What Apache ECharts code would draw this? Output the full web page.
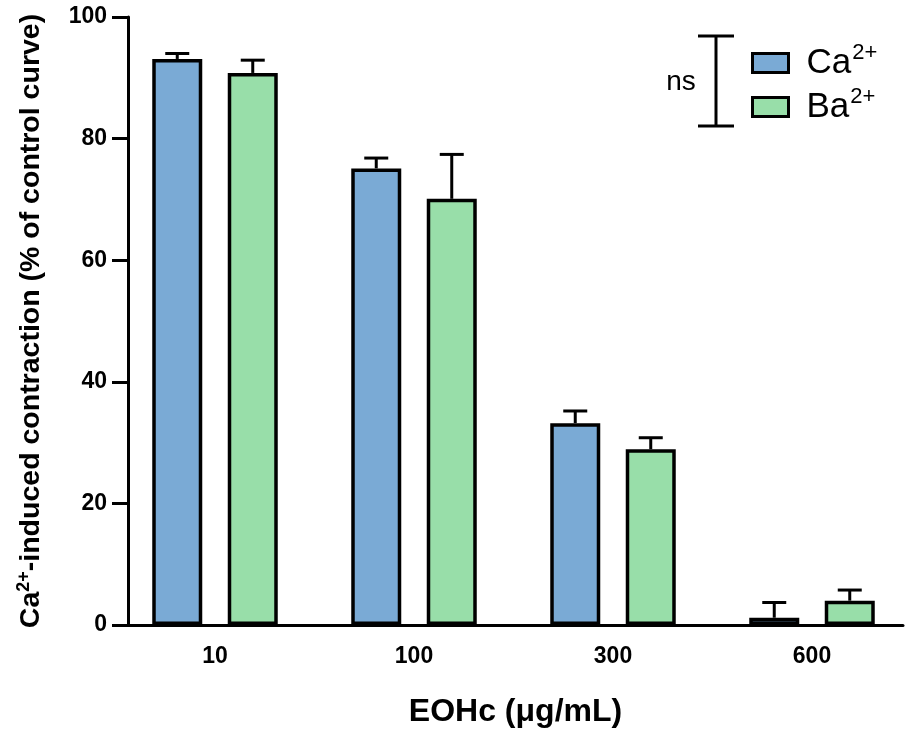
<!DOCTYPE html>
<html>
<head>
<meta charset="utf-8">
<script src="https://cdn.jsdelivr.net/npm/echarts@6/dist/echarts.min.js"></script>
<style>
  html, body { margin: 0; padding: 0; background: #fff; }
  #chart { width: 912px; height: 735px; }
</style>
</head>
<body>
<div id="chart"></div>
<script>
// data
const categories = ["10", "100", "300", "600"];
const caMean = [93.1, 75.1, 33.2, 1.2];
const caSem = [0.9, 1.7, 2.0, 2.5];
const baMean = [90.8, 70.1, 28.9, 4.0];
const baSem = [2.1, 7.3, 1.9, 1.75];
const yTicks = [0, 20, 40, 60, 80, 100];

const FONT = "'Liberation Sans', Arial, sans-serif";
const BAR_W = 50;
const BAR_GAP = 0.51;
const CA_COLOR = "#7aaad5";
const BA_COLOR = "#98dea9";

// error bar (upward only) drawn over a bar, side -1 = left bar, 1 = right bar
function errorBars(name, means, sems, side) {
  return {
    type: "custom",
    name: name + "_err",
    xAxisIndex: 0,
    yAxisIndex: 0,
    z: 1,
    silent: true,
    data: means.map((m, i) => [i, m, m + sems[i]]),
    renderItem: function (params, api) {
      const base = api.coord([api.value(0), api.value(1)]);
      const top = api.coord([api.value(0), api.value(2)]);
      const x = base[0] + side * BAR_W * (1 + BAR_GAP) / 2;
      const cap = 12;
      const style = { stroke: "#000", lineWidth: 3 };
      return {
        type: "group",
        children: [
          { type: "line", shape: { x1: x, y1: base[1], x2: x, y2: top[1] }, style: style },
          { type: "line", shape: { x1: x - cap, y1: top[1], x2: x + cap, y2: top[1] }, style: style },
        ],
      };
    },
  };
}

const chart = echarts.init(document.getElementById("chart"));

chart.setOption({
  animation: false,
  backgroundColor: "#fff",
  textStyle: { fontFamily: FONT },
  grid: [
    { left: 115.5, right: 0.5, top: 17, bottom: 110 },
    { left: 128, right: 9, top: 17, bottom: 110 },
  ],
  xAxis: [
    {
      type: "category",
      gridIndex: 0,
      data: categories,
      axisLine: { show: false },
      axisTick: {
        alignWithLabel: true,
        length: 10,
        lineStyle: { color: "#000", width: 3 },
      },
      axisLabel: {
        margin: 20,
        color: "#000",
        fontSize: 23,
        fontWeight: "bold",
        fontFamily: FONT,
      },
    },
    {
      type: "value",
      gridIndex: 1,
      min: 0,
      max: 1,
      axisLine: { show: true, lineStyle: { color: "#000", width: 3 } },
      axisTick: { show: false },
      axisLabel: { show: false },
      splitLine: { show: false },
      name: "EOHc (μg/mL)",
      nameLocation: "middle",
      nameGap: 71,
      nameTextStyle: {
        color: "#000",
        fontSize: 32,
        fontWeight: "bold",
        fontFamily: FONT,
      },
    },
  ],
  yAxis: [
    {
      type: "value",
      gridIndex: 0,
      min: 0,
      max: 100,
      interval: 20,
      show: false,
    },
    {
      type: "value",
      gridIndex: 1,
      min: yTicks[0],
      max: yTicks[yTicks.length - 1],
      interval: 20,
      axisLine: { show: true, lineStyle: { color: "#000", width: 3 } },
      axisTick: { show: true, length: 16, lineStyle: { color: "#000", width: 3 } },
      splitLine: { show: false },
      axisLabel: {
        margin: 21,
        color: "#000",
        fontSize: 23,
        fontWeight: "bold",
        fontFamily: FONT,
      },
      name: "{b|Ca}{s|2+}{b|-induced contraction (% of control curve)}",
      nameLocation: "middle",
      nameRotate: 90,
      nameGap: 81,
      nameTextStyle: {
        color: "#000",
        fontFamily: FONT,
        rich: {
          b: { fontSize: 28.5, fontWeight: "bold", color: "#000", fontFamily: FONT, lineHeight: 32 },
          s: { fontSize: 18, fontWeight: "bold", color: "#000", fontFamily: FONT, verticalAlign: "top", lineHeight: 14 },
        },
      },
    },
  ],
  legend: {
    orient: "vertical",
    left: 746,
    top: 37,
    itemWidth: 36,
    itemHeight: 19,
    itemGap: 2,
    icon: "rect",
    itemStyle: { borderColor: "#000", borderWidth: 3 },
    data: ["Ca", "Ba"],
    formatter: function (name) {
      return "{n|" + name + "}{s|2+}";
    },
    textStyle: {
      padding: [0, 0, 0, 13],
      rich: {
        n: { fontSize: 35, color: "#000", fontFamily: FONT, lineHeight: 30, verticalAlign: "middle" },
        s: { fontSize: 22, color: "#000", fontFamily: FONT, lineHeight: 22, verticalAlign: "middle", padding: [0, 0, 20, 1] },
      },
    },
  },
  graphic: [
    {
      type: "group",
      silent: true,
      children: [
        { type: "line", shape: { x1: 716, y1: 36, x2: 716, y2: 126 }, style: { stroke: "#000", lineWidth: 3 } },
        { type: "line", shape: { x1: 698, y1: 36, x2: 734, y2: 36 }, style: { stroke: "#000", lineWidth: 3 } },
        { type: "line", shape: { x1: 698, y1: 126, x2: 734, y2: 126 }, style: { stroke: "#000", lineWidth: 3 } },
        {
          type: "text",
          x: 681,
          y: 82,
          style: {
            text: "ns",
            fontSize: 28,
            fontFamily: FONT,
            fill: "#000",
            align: "center",
            verticalAlign: "middle",
          },
        },
      ],
    },
  ],
  series: [
    {
      name: "Ca",
      type: "bar",
      xAxisIndex: 0,
      yAxisIndex: 0,
      barWidth: BAR_W,
      barGap: BAR_GAP * 100 + "%",
      z: 2,
      data: caMean,
      itemStyle: { color: CA_COLOR, borderColor: "#000", borderWidth: 3.5 },
    },
    {
      name: "Ba",
      type: "bar",
      xAxisIndex: 0,
      yAxisIndex: 0,
      barWidth: BAR_W,
      barGap: BAR_GAP * 100 + "%",
      z: 2,
      data: baMean,
      itemStyle: { color: BA_COLOR, borderColor: "#000", borderWidth: 3.5 },
    },
    errorBars("Ca", caMean, caSem, -1),
    errorBars("Ba", baMean, baSem, 1),
  ],
});
</script>
</body>
</html>
